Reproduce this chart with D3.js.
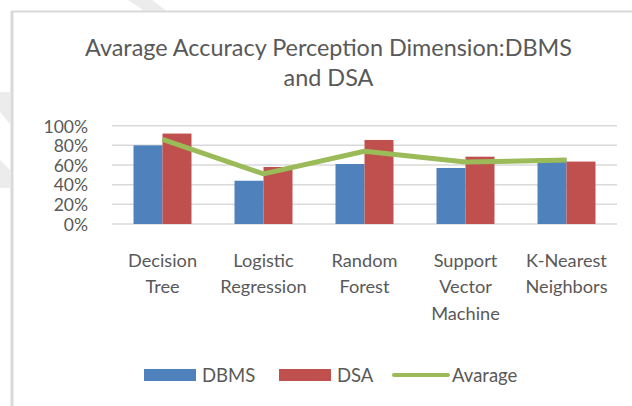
<!DOCTYPE html>
<html>
<head>
<meta charset="utf-8">
<script src="https://cdn.jsdelivr.net/npm/d3@7"></script>
<style>
  body { margin: 0; background: #fff; }
  svg { display: block; }
  text { font-family: Lato, "Open Sans", sans-serif; fill: #595959; }
</style>
</head>
<body>
<svg id="chart" width="632" height="406"></svg>
<script>
// Values (fractions of 1).
const categories = [
  ['Decision', 'Tree'],
  ['Logistic', 'Regression'],
  ['Random', 'Forest'],
  ['Support', 'Vector', 'Machine'],
  ['K-Nearest', 'Neighbors'],
];
const dbms = [0.80, 0.44, 0.61, 0.57, 0.665];
const dsa = [0.92, 0.58, 0.855, 0.685, 0.635];
const avarage = [0.86, 0.51, 0.74, 0.63, 0.65];
const yTicks = [0, 0.2, 0.4, 0.6, 0.8, 1];
const seriesNames = ['DBMS', 'DSA'];

const COLORS = { DBMS: '#4F81BD', DSA: '#C0504D', line: '#9BBB59', grid: '#D9D9D9' };

const svg = d3.select('#chart');
const keys = categories.map((c) => c.join(' '));

// faint watermark strokes + frame of the pasted chart
svg.append('polygon').attr('points', '128,0 152,0 168,12 146,12').attr('fill', '#ececec');
svg.append('polygon').attr('points', '0,92 10,92 10,124 0,112').attr('fill', '#ececec');
svg.append('polygon').attr('points', '0,160 10,170 10,188 0,188').attr('fill', '#ececec');
svg.append('line').attr('x1', 11).attr('x2', 632).attr('y1', 11.5).attr('y2', 11.5)
  .attr('stroke', '#d9d9d9').attr('stroke-width', 2);
svg.append('line').attr('x1', 12).attr('x2', 12).attr('y1', 11).attr('y2', 406)
  .attr('stroke', '#d9d9d9').attr('stroke-width', 3);

// title
const title = svg.append('text').attr('text-anchor', 'middle').style('font-size', '23.4px');
title.append('tspan').attr('x', 328.5).attr('y', 56).text('Avarage Accuracy Perception Dimension:DBMS');
title.append('tspan').attr('x', 328.5).attr('y', 86).text('and DSA');

const x = d3.scaleBand().domain(keys).range([112, 617]).paddingInner(0.426).paddingOuter(0.213);
const xSub = d3.scaleBand().domain(seriesNames).range([0, x.bandwidth()]);
const y = d3.scaleLinear().domain([0, 1]).range([224, 125.7]);

// gridlines
svg.append('g')
  .selectAll('line')
  .data(yTicks)
  .join('line')
  .attr('x1', 112).attr('x2', 617)
  .attr('y1', (d) => y(d)).attr('y2', (d) => y(d))
  .attr('stroke', COLORS.grid).attr('stroke-width', 1.5);

// y axis labels
const yAxis = svg.append('g')
  .attr('transform', 'translate(88,0)')
  .call(d3.axisLeft(y).tickValues(yTicks).tickFormat(d3.format('.0%')).tickSize(0).tickPadding(0));
yAxis.select('.domain').remove();
yAxis.selectAll('text').style('font-size', '17.5px').attr('fill', '#595959').attr('dy', '0.36em');

// bars
const rows = keys.map((k, i) => ({ key: k, DBMS: dbms[i], DSA: dsa[i] }));
svg.append('g')
  .selectAll('g')
  .data(rows)
  .join('g')
  .attr('transform', (d) => `translate(${x(d.key)},0)`)
  .selectAll('rect')
  .data((d) => seriesNames.map((s) => ({ s, v: d[s] })))
  .join('rect')
  .attr('x', (d) => xSub(d.s))
  .attr('width', xSub.bandwidth())
  .attr('y', (d) => y(d.v))
  .attr('height', (d) => y(0) - y(d.v))
  .attr('fill', (d) => COLORS[d.s]);

// average line
const line = d3.line()
  .x((d, i) => x(keys[i]) + x.bandwidth() / 2)
  .y((d) => y(d));
svg.append('path')
  .datum(avarage)
  .attr('d', line)
  .attr('fill', 'none')
  .attr('stroke', COLORS.line)
  .attr('stroke-width', 5)
  .attr('stroke-linejoin', 'round');

// category labels
svg.append('g')
  .selectAll('text')
  .data(categories)
  .join('text')
  .attr('text-anchor', 'middle')
  .style('font-size', '18.2px')
  .each(function (lines, i) {
    const t = d3.select(this);
    const cx = x(keys[i]) + x.bandwidth() / 2;
    lines.forEach((ln, j) => {
      t.append('tspan').attr('x', cx).attr('y', 266.5 + j * 26.8).text(ln);
    });
  });

// legend
const legend = svg.append('g').style('font-size', '18.5px');
const items = [
  { name: 'DBMS', kind: 'rect', x: 144, color: COLORS.DBMS },
  { name: 'DSA', kind: 'rect', x: 279, color: COLORS.DSA },
  { name: 'Avarage', kind: 'line', x: 394, color: COLORS.line },
];
items.forEach((it) => {
  if (it.kind === 'rect') {
    legend.append('rect').attr('x', it.x).attr('y', 369).attr('width', 52).attr('height', 12).attr('fill', it.color);
    legend.append('text').attr('x', it.x + 58).attr('y', 382).text(it.name);
  } else {
    legend.append('line').attr('x1', it.x).attr('x2', it.x + 54).attr('y1', 375).attr('y2', 375)
      .attr('stroke', it.color).attr('stroke-width', 4).attr('stroke-linecap', 'round');
    legend.append('text').attr('x', it.x + 58).attr('y', 382).text(it.name);
  }
});
</script>
</body>
</html>
